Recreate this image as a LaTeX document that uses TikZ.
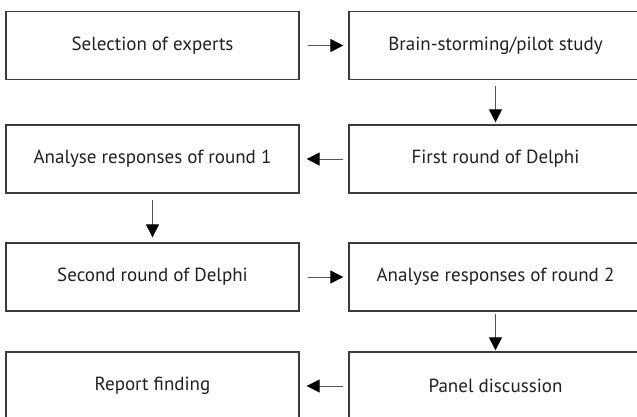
\documentclass[tikz,border=0pt]{standalone}
\usepackage{fontspec}
\setmainfont{PT Sans}
\usetikzlibrary{arrows.meta}
\definecolor{boxline}{HTML}{3A3A3A}
\definecolor{arrline}{HTML}{555555}
\definecolor{txt}{HTML}{231F20}
\tikzset{
  stepbox/.style={draw=boxline, line width=1.3pt, minimum width=293pt, minimum height=68pt,
    inner sep=0pt, font=\fontsize{19}{22}\selectfont, text=txt},
  flow/.style={draw=arrline, line width=1pt, -{Triangle[length=13pt,width=13pt,color=black]}}
}
\begin{document}
\begin{tikzpicture}[x=1pt,y=-1pt]
\useasboundingbox (0,0) rectangle (637,416);
\clip (0,0) rectangle (637,416);
\node[stepbox] (sel) at (152.5,45.5) {Selection of experts};
\node[stepbox] (brain) at (495.5,45.5) {Brain-storming/pilot study};
\node[stepbox] (an1) at (152.5,159) {Analyse responses of round 1};
\node[stepbox] (first) at (495.5,159) {First round of Delphi};
\node[stepbox] (second) at (152.5,277) {Second round of Delphi};
\node[stepbox] (an2) at (495.5,277) {Analyse responses of round 2};
\node[stepbox] (report) at (152.5,386) {Report finding};
\node[stepbox] (panel) at (495.5,386) {Panel discussion};
\draw[flow, shorten <=8pt, shorten >=5pt] (sel.east) -- (brain.west);
\draw[flow, shorten <=6pt, shorten >=2pt] (brain.south) -- (first.north);
\draw[flow, shorten <=5pt, shorten >=7pt] (first.west) -- (an1.east);
\draw[flow, shorten <=6pt, shorten >=5pt] (an1.south) -- (second.north);
\draw[flow, shorten <=8pt, shorten >=5pt] (second.east) -- (an2.west);
\draw[flow, shorten <=2pt, shorten >=1pt] (an2.south) -- (panel.north);
\draw[flow, shorten <=5pt, shorten >=7pt] (panel.west) -- (report.east);
\end{tikzpicture}
\end{document}
